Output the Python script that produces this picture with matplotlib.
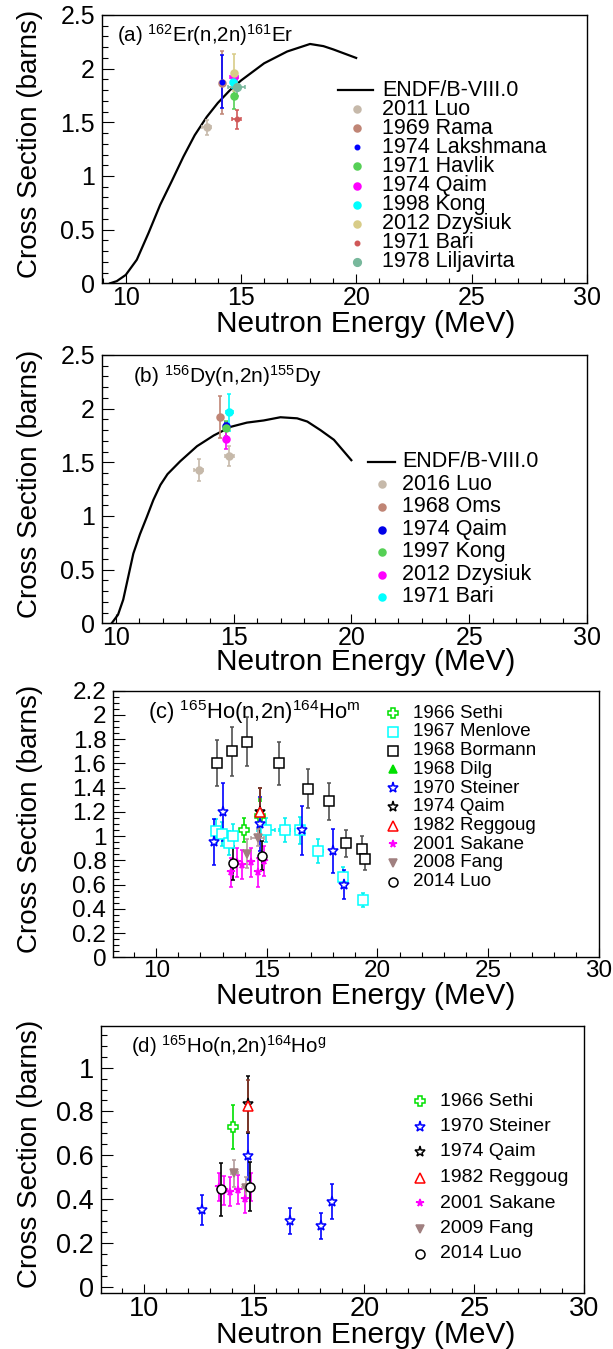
import numpy as np
import matplotlib
matplotlib.use('Agg')
import matplotlib.pyplot as plt
from matplotlib.ticker import MultipleLocator

plt.rcParams['font.family'] = ['Liberation Sans', 'DejaVu Sans']
plt.rcParams['mathtext.fontset'] = 'custom'
plt.rcParams['mathtext.rm'] = 'Liberation Sans'
plt.rcParams['mathtext.it'] = 'Liberation Sans:italic'
plt.rcParams['mathtext.bf'] = 'Liberation Sans:bold'

# ---------------- data: panel (a) 162Er(n,2n)161Er ----------------
endf_a_e = [9.32, 9.61, 10.0, 10.48, 10.99, 11.49, 11.99, 12.5, 12.99, 13.51, 13.99,
            14.52, 15.0, 16.0, 17.0, 17.99, 18.57, 18.99, 19.99]
endf_a_xs = [0.0, 0.02, 0.078, 0.22, 0.47, 0.73, 0.95, 1.18, 1.38, 1.55, 1.68,
             1.80, 1.89, 2.05, 2.16, 2.23, 2.21, 2.18, 2.10]

a_labels = ['2011 Luo', '1969 Rama', '1974 Lakshmana', '1971 Havlik', '1974 Qaim',
            '1998 Kong', '2012 Dzysiuk', '1971 Bari', '1978 Liljavirta']
a_e = [[13.51], [14.19], [14.19], [14.70], [14.70], [14.67], [14.70], [14.81], [14.81]]
a_xs = [[1.454], [1.87], [1.879], [1.745], [1.926], [1.879], [1.963], [1.528], [1.827]]
a_dxs = [[0.07], [0.295], [0.25], [0.12], [0.04], [0.06], [0.17], [0.09], [0.085]]
a_de = [[0.2], [0.05], [0.03], [0.05], [0.16], [0.1], [0.05], [0.2], [0.36]]

# ---------------- data: panel (b) 156Dy(n,2n)155Dy ----------------
endf_b_e = [9.83, 10.1, 10.32, 10.55, 10.75, 11.03, 11.32, 11.6, 11.9, 12.2, 12.74,
            13.45, 14.16, 14.87, 15.57, 16.28, 16.99, 17.7, 18.13, 18.69, 19.26, 20.0]
endf_b_xs = [0.0, 0.08, 0.22, 0.45, 0.65, 0.83, 0.99, 1.15, 1.29, 1.39, 1.51,
             1.65, 1.75, 1.83, 1.87, 1.89, 1.92, 1.91, 1.88, 1.80, 1.71, 1.52]

b_labels = ['2016 Luo', '1968 Oms', '1974 Qaim', '1997 Kong', '2012 Dzysiuk', '1971 Bari']
b_e = [[13.52, 14.82], [14.41], [14.69], [14.69], [14.69], [14.82]]
b_xs = [[1.43, 1.56], [1.925], [1.84], [1.817], [1.717], [1.966]]
b_dxs = [[0.10, 0.09], [0.195], [0.04], [0.07], [0.09], [0.17]]
b_de = [[0.2, 0.2], [0.05], [0.05], [0.05], [0.03], [0.15]]

# ---------------- data: panel (c) 165Ho(n,2n)164Ho^m ----------------
c_labels = ['1966 Sethi', '1967 Menlove', '1968 Bormann', '1968 Dilg', '1970 Steiner',
            '1974 Qaim', '1982 Reggoug', '2001 Sakane', '2008 Fang', '2014 Luo']
c_e = [[13.99, 14.70],
       [12.71, 12.97, 13.28, 13.49, 14.96, 15.80, 16.49, 17.33, 18.43, 19.37],
       [12.74, 13.43, 14.11, 15.53, 16.87, 17.79, 18.60, 19.32, 19.44],
       [14.70],
       [12.61, 13.0, 14.70, 16.58, 18.0, 18.48],
       [14.70],
       [14.70],
       [13.40, 13.66, 13.89, 14.28, 14.58, 14.87],
       [14.11, 14.59],
       [13.48, 14.79]]
c_xs = [[1.05, 1.17],
        [1.044, 1.017, 0.946, 1.003, 1.05, 1.05, 1.048, 0.875, 0.666, 0.473],
        [1.60, 1.70, 1.78, 1.60, 1.39, 1.287, 0.94, 0.897, 0.81],
        [1.19],
        [0.954, 1.20, 1.10, 1.048, 0.877, 0.597],
        [1.20],
        [1.20],
        [0.70, 0.785, 0.765, 0.785, 0.70, 0.795],
        [0.855, 0.985],
        [0.775, 0.838]]
c_dxs = [[0.10, 0.12],
         [0.1, 0.1, 0.1, 0.1, 0.1, 0.1, 0.11, 0.1, 0.08, 0.055],
         [0.19, 0.2, 0.2, 0.18, 0.16, 0.15, 0.11, 0.1, 0.09],
         [0.12],
         [0.19, 0.24, 0.22, 0.2, 0.18, 0.12],
         [0.2],
         [0.2],
         [0.12, 0.12, 0.12, 0.12, 0.12, 0.12],
         [0.12, 0.07],
         [0.14, 0.12]]
c_de = [[0.0, 0.0],
        [0.15, 0.15, 0.15, 0.15, 0.4, 0.23, 0.2, 0.2, 0.15, 0.12],
        [0.0] * 9,
        [0.0],
        [0.0] * 6,
        [0.05],
        [0.05],
        [0.0] * 6,
        [0.05, 0.3],
        [0.1, 0.1]]

# ---------------- data: panel (d) 165Ho(n,2n)164Ho^g ----------------
d_labels = ['1966 Sethi', '1970 Steiner', '1974 Qaim', '1982 Reggoug', '2001 Sakane',
            '2009 Fang', '2014 Luo']
d_e = [[14.01],
       [12.61, 14.73, 16.61, 18.02, 18.52],
       [14.73],
       [14.73],
       [13.40, 13.64, 13.89, 14.26, 14.57, 14.86],
       [14.09, 14.62],
       [13.49, 14.80]]
d_xs = [[0.729],
        [0.35, 0.598, 0.30, 0.276, 0.388],
        [0.832],
        [0.825],
        [0.455, 0.44, 0.434, 0.443, 0.40, 0.456],
        [0.517, 0.45],
        [0.445, 0.457]]
d_dxs = [[0.1],
         [0.07, 0.11, 0.06, 0.06, 0.08],
         [0.13],
         [0.12],
         [0.065] * 6,
         [0.06, 0.05],
         [0.12, 0.11]]
d_de = [[0.0],
        [0.0] * 5,
        [0.05],
        [0.05],
        [0.0] * 6,
        [0.15, 0.2],
        [0.1, 0.1]]

# ---------------- styles ----------------
a_style = [dict(c='#c6b9aa', m='o', ms=5), dict(c='#c08575', m='o', ms=5),
           dict(c='#0000ff', m='o', ms=3.2), dict(c='#55d055', m='o', ms=5),
           dict(c='#ff00ff', m='o', ms=5), dict(c='#00ffff', m='o', ms=5),
           dict(c='#d8cc88', m='o', ms=5), dict(c='#d05858', m='o', ms=3.2),
           dict(c='#78b89c', m='o', ms=5.5)]
b_style = [dict(c='#c6b9aa', m='o', ms=5), dict(c='#c08575', m='o', ms=5),
           dict(c='#0000e8', m='o', ms=5), dict(c='#55d055', m='o', ms=5),
           dict(c='#ff00ff', m='o', ms=5), dict(c='#00ffff', m='o', ms=5)]
c_style = [dict(c='#00e000', m='P', ms=6.5, mfc='white', ec='#00e000'),
           dict(c='#00ffff', m='s', ms=6.5, mfc='white', ec='#00f0f0'),
           dict(c='black', m='s', ms=6.5, mfc='white', ec='#505050'),
           dict(c='#00e000', m='^', ms=6, mfc='#00e000', ec='#00e000'),
           dict(c='blue', m='*', ms=8, mfc='white', ec='blue'),
           dict(c='black', m='*', ms=8, mfc='white', ec='black'),
           dict(c='red', m='^', ms=6.5, mfc='white', ec='#8a3a2a'),
           dict(c='#ff00ff', m='*', ms=5.5, mfc='#ff00ff', ec='#ff00ff'),
           dict(c='#a08080', m='v', ms=6, mfc='#a08080', ec='#b39c9c'),
           dict(c='black', m='o', ms=6.5, mfc='white', ec='black')]
d_style = [c_style[0], c_style[4], c_style[5], c_style[6], c_style[7], c_style[8], c_style[9]]

W, H = 613, 1349
fig = plt.figure(figsize=(W / 100, H / 100), dpi=100)

boxes = {'a': (102, 15, 587, 283.3), 'b': (102, 355, 587, 623.3),
         'c': (113.3, 690.7, 598.6, 957.3), 'd': (101, 1026, 584.3, 1293.3)}


def make_ax(key):
    l, t, r, b = boxes[key]
    ax = fig.add_axes([l / W, 1 - b / H, (r - l) / W, (b - t) / H])
    for s in ax.spines.values():
        s.set_linewidth(1.0)
    return ax


def fx(key, px):
    l, t, r, b = boxes[key]
    return (px - l) / (r - l)


def fy(key, py):
    l, t, r, b = boxes[key]
    return (b - py) / (b - t)


def style_axes(ax, key, xlim, ylim, ymaj, ymin, tfs, lfs_x, lfs_y, xlab_y, ylab_x):
    ax.set_xlim(*xlim)
    ax.set_ylim(*ylim)
    ax.xaxis.set_major_locator(MultipleLocator(5))
    ax.xaxis.set_minor_locator(MultipleLocator(1))
    ax.yaxis.set_major_locator(MultipleLocator(ymaj))
    ax.yaxis.set_minor_locator(MultipleLocator(ymin))
    ax.tick_params(axis='both', which='both', direction='in', top=False, right=False,
                   width=0.8, labelsize=tfs)
    ax.tick_params(axis='x', which='major', length=6.5, pad=2)
    ax.tick_params(axis='x', which='minor', length=3.5)
    ax.tick_params(axis='y', which='major', length=8.5, pad=5)
    ax.tick_params(axis='y', which='minor', length=4.5)
    ax.yaxis.set_major_formatter(matplotlib.ticker.FuncFormatter(lambda v, p: ('%g' % round(v, 3))))
    ax.set_xlabel('Neutron Energy (MeV)', fontsize=lfs_x, va='center')
    ax.set_ylabel('Cross Section (barns)', fontsize=lfs_y, va='center')
    ax.xaxis.set_label_coords(fx(key, 366), fy(key, xlab_y))
    ax.yaxis.set_label_coords(fx(key, ylab_x), 0.52)


def draw(ax, e, xs, dxs, de, st):
    ax.errorbar(e, xs, yerr=dxs, xerr=de, fmt=st['m'], color=st['c'], ms=st['ms'],
                mfc=st.get('mfc', st['c']), mec=st['c'], mew=1.1,
                ecolor=st.get('ec', st['c']), elinewidth=1.2, capsize=1.3, capthick=0.9,
                zorder=3)


def legend_row(ax, key, mx, tx, py, label, st, fs):
    ax.plot([fx(key, mx)], [fy(key, py)], marker=st['m'], ms=st['ms'],
            color=st['c'], mfc=st.get('mfc', st['c']), mec=st['c'], mew=1.1,
            transform=ax.transAxes, clip_on=False, linestyle='none')
    ax.text(fx(key, tx), fy(key, py), label, transform=ax.transAxes, fontsize=fs,
            va='center', ha='left')


# ---------- panel (a) ----------
ax = make_ax('a')
ax.plot(endf_a_e, endf_a_xs, color='black', lw=1.6, zorder=2)
for i in range(len(a_labels)):
    draw(ax, a_e[i], a_xs[i], a_dxs[i], a_de[i], a_style[i])
style_axes(ax, 'a', (8.97, 30), (0, 2.5), 0.5, 0.1, 18, 21.5, 20, 323.5, 30)
ax.text(fx('a', 117), fy('a', 42), r'(a) $^{162}$Er(n,2n)$^{161}$Er', transform=ax.transAxes,
        fontsize=14.8, va='baseline', ha='left')
ax.plot([fx('a', 338), fx('a', 373)], [fy('a', 90)] * 2, color='black', lw=1.6,
        transform=ax.transAxes, clip_on=False)
ax.text(fx('a', 382), fy('a', 90), 'ENDF/B-VIII.0', transform=ax.transAxes, fontsize=15.5,
        va='center', ha='left')
for i, lab in enumerate(a_labels):
    legend_row(ax, 'a', 357, 382, 109.2 + 19.1 * i, lab, a_style[i], 15.5)

# ---------- panel (b) ----------
ax = make_ax('b')
ax.plot(endf_b_e, endf_b_xs, color='black', lw=1.6, zorder=2)
for i in range(len(b_labels)):
    draw(ax, b_e[i], b_xs[i], b_dxs[i], b_de[i], b_style[i])
style_axes(ax, 'b', (9.42, 30), (0, 2.5), 0.5, 0.1, 18, 21.5, 20, 662, 30)
ax.text(fx('b', 133), fy('b', 382.7), r'(b) $^{156}$Dy(n,2n)$^{155}$Dy', transform=ax.transAxes,
        fontsize=15, va='baseline', ha='left')
ax.plot([fx('b', 368), fx('b', 395)], [fy('b', 462)] * 2, color='black', lw=1.6,
        transform=ax.transAxes, clip_on=False)
ax.text(fx('b', 402), fy('b', 462), 'ENDF/B-VIII.0', transform=ax.transAxes, fontsize=15.5,
        va='center', ha='left')
for i, lab in enumerate(b_labels):
    legend_row(ax, 'b', 382, 402, 484.5 + 22.5 * i, lab, b_style[i], 15.5)

# ---------- panel (c) ----------
ax = make_ax('c')
for i in range(len(c_labels)):
    draw(ax, c_e[i], c_xs[i], c_dxs[i], c_de[i], c_style[i])
style_axes(ax, 'c', (8.06, 30), (0, 2.2), 0.2, 0.05, 17.5, 21.5, 20, 996, 30)
ax.text(fx('c', 148), fy('c', 719.3), r'(c) $^{165}$Ho(n,2n)$^{164}$Ho$^{\rm m}$',
        transform=ax.transAxes, fontsize=15.8, va='baseline', ha='left')
for i, lab in enumerate(c_labels):
    legend_row(ax, 'c', 393, 413, 713.3 + 18.7 * i, lab, c_style[i], 13.5)

# ---------- panel (d) ----------
ax = make_ax('d')
for i in range(len(d_labels)):
    draw(ax, d_e[i], d_xs[i], d_dxs[i], d_de[i], d_style[i])
style_axes(ax, 'd', (8.03, 30), (-0.03, 1.19), 0.2, 0.05, 19.5, 21.5, 20, 1335, 30)
ax.text(fx('d', 131), fy('d', 1052.7), r'(d) $^{165}$Ho(n,2n)$^{164}$Ho$^{\rm g}$',
        transform=ax.transAxes, fontsize=14.8, va='baseline', ha='left')
for i, lab in enumerate(d_labels):
    legend_row(ax, 'd', 420, 440, 1101 + 25.5 * i, lab, d_style[i], 14)

fig.savefig('out.png', dpi=100)
